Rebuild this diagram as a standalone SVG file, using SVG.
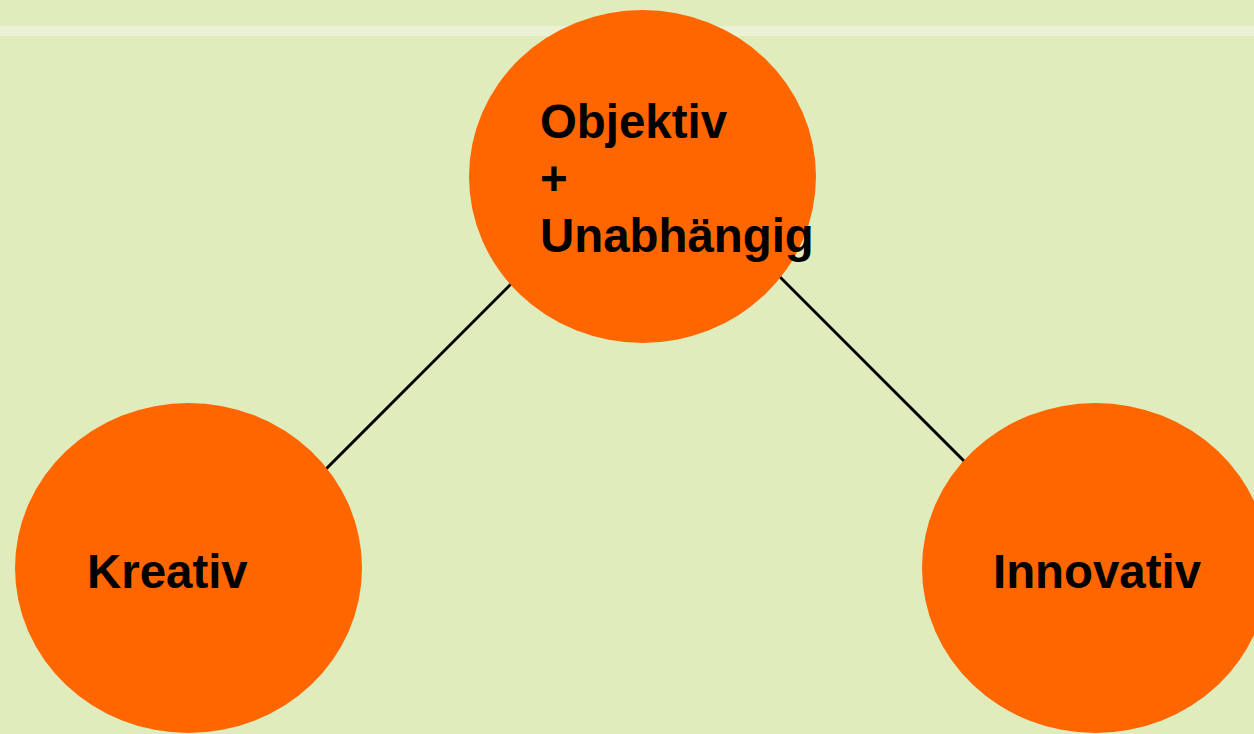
<svg xmlns="http://www.w3.org/2000/svg" width="1254" height="734" viewBox="0 0 1254 734">
<style>
.node{fill:#ff6600}
.lbl{font-family:"Liberation Sans",Arial,sans-serif;font-weight:bold;font-size:47.4px;fill:#000}
.conn{stroke:#000;stroke-width:3;fill:none}
</style>
<rect width="1254" height="734" fill="#e0ecbc"/>
<rect x="0" y="26" width="1254" height="10" fill="#eaf1d4"/>
<g id="connectors">
<line class="conn" x1="320" y1="475" x2="530" y2="265"/>
<line class="conn" x1="760" y1="257" x2="975" y2="472"/>
</g>
<g id="node-top">
<ellipse class="node" cx="642.5" cy="176.5" rx="173.5" ry="166.5"/>
<text class="lbl" x="540" y="138">Objektiv</text>
<text class="lbl" x="540" y="195">+</text>
<text class="lbl" x="540" y="252">Unabhängig</text>
</g>
<g id="node-left">
<ellipse class="node" cx="188.5" cy="568" rx="173.5" ry="165"/>
<text class="lbl" x="87" y="588">Kreativ</text>
</g>
<g id="node-right">
<ellipse class="node" cx="1095.5" cy="568" rx="173.5" ry="165"/>
<text class="lbl" x="993" y="588">Innovativ</text>
</g>
</svg>
